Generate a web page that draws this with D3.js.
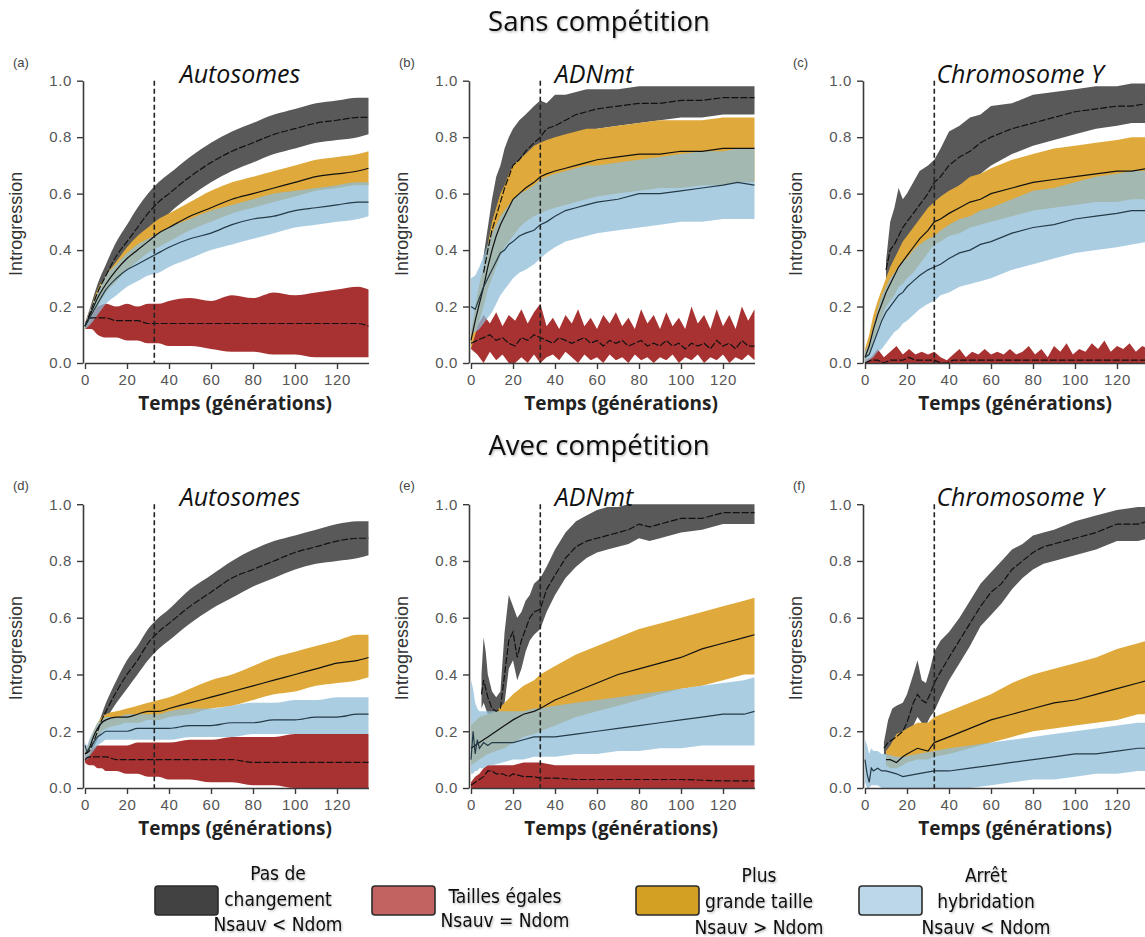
<!DOCTYPE html>
<html>
<head>
<meta charset="utf-8">
<script src="https://cdn.jsdelivr.net/npm/d3@7"></script>
<style>
  body { margin: 0; background: #fff; }
  svg { display: block; }
</style>
</head>
<body>
<svg id="fig" width="1145" height="937"></svg>
<script>
// ---------- Texts ----------
const rowTitles = ["Sans compétition", "Avec compétition"];
const panelLetters = ["(a)", "(b)", "(c)", "(d)", "(e)", "(f)"];
const markerNames = ["Autosomes", "ADNmt", "Chromosome Y"];
const xTitle = "Temps (générations)";
const yTitle = "Introgression";
const xTicks = [0, 20, 40, 60, 80, 100, 120];
const yTicks = [0, 0.2, 0.4, 0.6, 0.8, 1.0];
const timeMax = 135;
const changeGeneration = 33; // dashed vertical marker

const legendLabels = [
  ["Pas de", "changement", "Nsauv < Ndom"],
  ["Tailles égales", "Nsauv = Ndom"],
  ["Plus", "grande taille", "Nsauv > Ndom"],
  ["Arrêt", "hybridation", "Nsauv < Ndom"]
];

// ---------- Series: rows of [generation, lower, mean, upper] ----------
// (a) Autosomes, sans compétition
const a_gris = [[0,.12,.13,.14],[3,.17,.19,.21],[6,.22,.25,.28],[10,.27,.31,.35],[15,.32,.38,.43],[20,.37,.43,.49],[25,.41,.48,.55],[30,.46,.53,.60],[35,.49,.57,.64],[40,.53,.60,.67],[50,.59,.66,.73],[60,.64,.71,.78],[70,.68,.75,.82],[80,.71,.78,.85],[90,.74,.81,.88],[100,.76,.83,.90],[110,.78,.85,.92],[120,.79,.86,.93],[130,.80,.87,.94],[135,.81,.87,.94]];
const a_rouge = [[0,.12,.13,.14],[3,.12,.16,.19],[6,.10,.16,.20],[10,.09,.16,.21],[15,.09,.15,.20],[20,.08,.15,.21],[25,.08,.15,.20],[30,.07,.14,.21],[35,.07,.14,.21],[40,.06,.14,.22],[50,.06,.14,.23],[60,.05,.14,.22],[70,.04,.14,.24],[80,.04,.14,.23],[90,.03,.14,.25],[100,.03,.14,.24],[110,.02,.14,.25],[120,.02,.14,.26],[130,.02,.14,.27],[135,.02,.13,.26]];
const a_or = [[0,.12,.13,.14],[3,.16,.18,.20],[6,.20,.23,.26],[10,.25,.28,.31],[15,.29,.33,.36],[20,.33,.37,.41],[25,.36,.40,.45],[30,.39,.43,.48],[35,.41,.46,.51],[40,.43,.48,.53],[50,.47,.52,.57],[60,.50,.55,.61],[70,.53,.58,.64],[80,.55,.60,.66],[90,.57,.62,.68],[100,.59,.64,.70],[110,.61,.66,.72],[120,.62,.67,.73],[130,.63,.68,.74],[135,.63,.69,.75]];
const a_bleu = [[0,.12,.13,.14],[3,.14,.17,.20],[6,.17,.21,.25],[10,.21,.26,.31],[15,.24,.30,.35],[20,.27,.33,.39],[25,.29,.35,.42],[30,.31,.37,.44],[35,.32,.39,.46],[40,.34,.41,.48],[50,.37,.44,.51],[60,.40,.46,.54],[70,.42,.49,.56],[80,.44,.51,.58],[90,.46,.52,.60],[100,.48,.54,.61],[110,.49,.55,.62],[120,.50,.56,.63],[130,.51,.57,.64],[135,.52,.57,.64]];

// (b) ADNmt, sans compétition
const b_gris = [[6,.28,.32,.38],[8,.33,.40,.48],[10,.40,.47,.58],[12,.44,.52,.66],[14,.47,.57,.70],[16,.52,.62,.76],[18,.56,.66,.80],[20,.58,.70,.83],[23,.61,.72,.86],[26,.64,.75,.88],[30,.67,.78,.91],[33,.69,.80,.93],[36,.71,.83,.92],[40,.76,.84,.95],[45,.79,.86,.95],[50,.80,.88,.96],[55,.82,.89,.97],[60,.83,.90,.97],[70,.84,.91,.97],[80,.85,.92,.98],[90,.86,.92,.98],[100,.87,.93,.98],[110,.87,.93,.98],[120,.88,.94,.98],[127,.88,.94,.98],[135,.88,.94,.98]];
const b_rouge = [[0,.05,.07,.09],[3,.03,.08,.13],[6,.00,.09,.17],[9,.04,.10,.14],[12,.01,.08,.18],[15,.03,.09,.13],[18,.00,.07,.17],[21,.00,.06,.15],[24,.02,.09,.19],[27,.00,.08,.14],[30,.03,.10,.18],[33,.00,.09,.21],[36,.02,.08,.13],[39,.03,.07,.16],[42,.01,.09,.12],[45,.04,.08,.17],[48,.02,.07,.14],[51,.00,.08,.19],[54,.03,.09,.13],[57,.01,.07,.16],[60,.02,.08,.12],[63,.00,.06,.17],[66,.03,.08,.14],[69,.01,.07,.18],[72,.02,.08,.13],[75,.00,.06,.16],[78,.03,.07,.12],[81,.01,.08,.19],[84,.02,.06,.14],[87,.00,.07,.17],[90,.02,.06,.12],[93,.01,.08,.18],[96,.03,.06,.13],[99,.00,.07,.16],[102,.02,.05,.12],[105,.01,.07,.20],[108,.03,.06,.14],[111,.00,.07,.17],[114,.02,.05,.12],[117,.01,.08,.19],[120,.03,.06,.13],[123,.00,.07,.17],[126,.02,.05,.12],[129,.01,.08,.20],[132,.03,.06,.15],[135,.01,.06,.19]];
const b_or = [[0,.05,.08,.11],[2,.10,.15,.20],[4,.15,.21,.28],[6,.20,.27,.34],[8,.26,.34,.42],[10,.30,.40,.50],[12,.34,.45,.55],[14,.38,.49,.60],[16,.41,.52,.63],[18,.43,.55,.67],[20,.45,.58,.70],[23,.48,.60,.72],[26,.50,.62,.74],[30,.52,.64,.77],[33,.53,.66,.78],[36,.54,.67,.79],[40,.55,.68,.80],[45,.56,.69,.81],[50,.57,.70,.82],[55,.58,.71,.83],[60,.59,.72,.83],[70,.60,.73,.84],[80,.61,.74,.85],[90,.62,.74,.86],[100,.62,.75,.86],[110,.63,.75,.86],[120,.63,.76,.87],[127,.64,.76,.87],[135,.64,.76,.87]];
const b_bleu = [[0,.10,.20,.30],[2,.11,.19,.31],[4,.12,.23,.34],[6,.14,.27,.38],[8,.16,.30,.42],[10,.18,.33,.46],[12,.21,.36,.49],[14,.24,.39,.52],[16,.26,.40,.54],[18,.28,.42,.56],[20,.30,.43,.58],[23,.32,.45,.60],[26,.33,.46,.61],[30,.35,.47,.63],[33,.37,.49,.65],[36,.39,.50,.66],[40,.41,.52,.67],[45,.43,.54,.68],[50,.44,.55,.69],[55,.45,.56,.70],[60,.46,.57,.70],[70,.47,.58,.71],[80,.48,.60,.72],[90,.49,.60,.73],[100,.50,.61,.74],[110,.50,.62,.75],[120,.51,.63,.75],[127,.51,.64,.76],[135,.51,.63,.76]];

// (c) Chromosome Y, sans compétition
const c_gris = [[10,.28,.33,.36],[12,.32,.40,.50],[14,.34,.42,.55],[16,.36,.45,.62],[18,.40,.48,.58],[20,.42,.50,.60],[23,.45,.53,.64],[26,.47,.56,.68],[30,.50,.60,.70],[33,.55,.64,.72],[36,.57,.66,.76],[40,.60,.70,.82],[45,.63,.73,.84],[50,.65,.75,.87],[55,.67,.78,.88],[60,.70,.80,.91],[70,.74,.83,.92],[80,.77,.85,.95],[90,.79,.87,.96],[100,.81,.89,.97],[110,.83,.90,.98],[120,.84,.91,.98],[127,.85,.91,.99],[135,.85,.92,.99]];
const c_rouge = [[0,0,0,.01],[3,0,.01,.02],[6,0,.01,.05],[9,0,0,.02],[12,0,.01,.04],[15,0,.01,.06],[18,0,.01,.03],[21,0,.02,.05],[24,0,.01,.03],[27,0,.01,.04],[30,0,.01,.03],[33,0,.01,.04],[36,0,0,.02],[39,0,0,.01],[42,0,.01,.03],[45,0,.01,.05],[48,0,.01,.02],[51,0,.01,.04],[54,0,.01,.03],[57,0,.01,.05],[60,0,.01,.03],[63,0,.01,.04],[66,0,.01,.03],[69,0,.01,.05],[72,0,.01,.03],[75,0,.01,.04],[78,0,.01,.06],[81,0,.01,.03],[84,0,.01,.05],[87,0,.01,.02],[90,0,.01,.06],[93,0,.01,.04],[96,0,.01,.07],[99,0,.01,.03],[102,0,.01,.05],[105,0,.01,.04],[108,0,.01,.07],[111,0,.01,.05],[114,0,.01,.08],[117,0,.01,.04],[120,0,.01,.06],[123,0,.01,.05],[126,0,.01,.07],[129,0,.01,.04],[132,0,.01,.06],[135,0,.01,.05]];
const c_or = [[0,0,.02,.05],[2,.03,.06,.10],[4,.08,.12,.17],[6,.12,.17,.22],[8,.16,.21,.26],[10,.20,.25,.30],[12,.22,.28,.34],[14,.24,.31,.37],[16,.27,.34,.40],[18,.28,.36,.43],[20,.30,.38,.45],[23,.32,.41,.48],[26,.35,.44,.51],[30,.39,.47,.55],[33,.42,.50,.57],[36,.43,.51,.59],[40,.45,.53,.61],[45,.46,.55,.63],[50,.48,.57,.66],[55,.49,.58,.67],[60,.50,.60,.69],[70,.52,.62,.72],[80,.54,.64,.74],[90,.55,.65,.76],[100,.56,.66,.77],[110,.57,.67,.78],[120,.57,.68,.79],[127,.58,.68,.80],[135,.58,.69,.80]];
const c_bleu = [[0,0,.02,.04],[2,.01,.03,.07],[4,.02,.07,.13],[6,.04,.11,.19],[8,.05,.15,.24],[10,.07,.18,.27],[12,.09,.20,.30],[14,.11,.22,.32],[16,.12,.24,.34],[18,.14,.25,.36],[20,.15,.27,.37],[23,.17,.29,.40],[26,.19,.31,.42],[30,.21,.33,.44],[33,.22,.34,.45],[36,.24,.35,.47],[40,.25,.37,.49],[45,.27,.39,.51],[50,.28,.40,.52],[55,.29,.42,.54],[60,.30,.43,.55],[70,.33,.46,.58],[80,.35,.48,.61],[90,.37,.49,.62],[100,.39,.51,.64],[110,.40,.52,.66],[120,.41,.53,.67],[127,.42,.54,.68],[135,.43,.54,.68]];

// (d) Autosomes, avec compétition
const d_gris = [[0,.11,.12,.13],[2,.12,.13,.15],[4,.14,.16,.18],[6,.17,.20,.22],[8,.21,.24,.26],[10,.24,.27,.30],[15,.30,.34,.38],[20,.35,.40,.45],[25,.40,.45,.50],[30,.45,.51,.56],[35,.49,.55,.60],[40,.52,.58,.63],[50,.58,.64,.70],[60,.63,.69,.75],[70,.67,.74,.80],[80,.71,.77,.84],[90,.74,.80,.87],[100,.77,.83,.89],[110,.79,.85,.91],[120,.80,.87,.93],[130,.81,.88,.94],[135,.82,.88,.94]];
const d_rouge = [[0,.09,.10,.11],[2,.08,.11,.13],[4,.08,.11,.14],[6,.07,.11,.15],[8,.07,.11,.15],[10,.06,.11,.15],[15,.06,.10,.15],[20,.05,.10,.15],[25,.05,.10,.16],[30,.04,.10,.16],[35,.04,.10,.16],[40,.03,.10,.16],[50,.03,.10,.17],[60,.02,.10,.17],[70,.02,.10,.18],[80,.01,.09,.18],[90,.01,.09,.18],[100,0,.09,.19],[110,0,.09,.19],[120,0,.09,.19],[130,0,.09,.19],[135,0,.09,.19]];
const d_or = [[0,.11,.12,.13],[2,.12,.14,.16],[4,.15,.18,.20],[6,.18,.21,.23],[8,.20,.23,.25],[10,.21,.24,.26],[15,.22,.25,.27],[20,.23,.25,.28],[25,.23,.26,.29],[30,.24,.27,.30],[35,.24,.27,.31],[40,.25,.28,.32],[50,.26,.30,.35],[60,.28,.32,.38],[70,.29,.34,.40],[80,.31,.36,.43],[90,.33,.38,.46],[100,.34,.40,.48],[110,.36,.42,.50],[120,.37,.44,.52],[130,.38,.45,.54],[135,.39,.46,.54]];
const d_bleu = [[0,.10,.15,.16],[1,.10,.13,.15],[2,.11,.14,.17],[4,.13,.16,.20],[6,.15,.18,.23],[8,.16,.19,.24],[10,.17,.20,.25],[15,.17,.20,.25],[20,.17,.20,.26],[25,.17,.21,.26],[30,.17,.21,.26],[35,.17,.21,.26],[40,.17,.21,.27],[50,.18,.22,.28],[60,.18,.22,.28],[70,.18,.23,.29],[80,.19,.23,.30],[90,.19,.24,.30],[100,.19,.24,.31],[110,.19,.25,.31],[120,.19,.25,.32],[130,.19,.26,.32],[135,.19,.26,.32]];

// (e) ADNmt, avec compétition
const e_gris = [[5,.28,.33,.40],[6,.30,.38,.53],[7,.28,.35,.48],[8,.26,.32,.40],[10,.25,.28,.34],[12,.24,.27,.32],[14,.25,.28,.34],[16,.30,.40,.55],[18,.42,.52,.68],[20,.45,.55,.64],[22,.38,.46,.60],[24,.42,.52,.62],[26,.48,.56,.66],[28,.52,.60,.68],[30,.54,.62,.72],[33,.56,.63,.74],[36,.62,.70,.78],[40,.68,.75,.84],[45,.74,.81,.90],[50,.78,.85,.94],[55,.81,.87,.96],[60,.83,.88,.98],[65,.84,.89,.99],[70,.85,.90,.99],[75,.86,.91,1],[80,.88,.93,1],[85,.87,.92,1],[90,.88,.93,1],[100,.90,.95,1],[110,.91,.95,1],[120,.93,.97,1],[127,.93,.97,1],[135,.93,.97,1]];
const e_rouge = [[0,0,.01,.02],[2,0,.02,.04],[4,0,.03,.05],[6,0,.04,.07],[8,0,.06,.08],[10,0,.06,.08],[12,0,.05,.08],[15,0,.05,.08],[18,0,.04,.08],[20,0,.05,.08],[25,0,.04,.09],[30,0,.04,.09],[33,0,.035,.09],[40,0,.035,.08],[50,0,.03,.08],[60,0,.03,.08],[80,0,.03,.08],[100,0,.03,.08],[120,0,.025,.08],[135,0,.025,.08]];
const e_or = [[0,.08,.14,.22],[4,.10,.16,.25],[8,.12,.18,.26],[12,.13,.20,.27],[16,.14,.22,.30],[20,.16,.24,.33],[25,.18,.26,.36],[30,.19,.27,.38],[33,.20,.28,.40],[40,.22,.31,.43],[50,.25,.34,.47],[60,.27,.37,.50],[70,.29,.40,.53],[80,.31,.42,.56],[90,.33,.44,.58],[100,.35,.46,.60],[110,.36,.49,.62],[120,.38,.51,.64],[130,.40,.53,.66],[135,.40,.54,.67]];
const e_bleu = [[0,.05,.10,.38],[1,.05,.20,.35],[2,.06,.12,.30],[3,.06,.17,.28],[4,.07,.14,.27],[6,.07,.16,.27],[8,.08,.15,.27],[10,.08,.16,.27],[15,.09,.16,.27],[20,.10,.16,.27],[25,.10,.17,.27],[30,.11,.18,.28],[33,.11,.18,.28],[40,.11,.18,.29],[50,.12,.19,.30],[60,.12,.20,.31],[70,.13,.21,.32],[80,.13,.22,.33],[90,.14,.23,.34],[100,.14,.24,.35],[110,.15,.25,.36],[120,.15,.26,.37],[130,.15,.26,.38],[135,.15,.27,.39]];

// (f) Chromosome Y, avec compétition
const f_gris = [[9,.12,.14,.16],[11,.11,.16,.24],[13,.12,.17,.28],[15,.13,.18,.29],[18,.14,.20,.30],[20,.15,.23,.33],[23,.22,.30,.40],[25,.25,.33,.45],[27,.23,.31,.38],[29,.22,.30,.37],[31,.25,.33,.42],[33,.27,.37,.48],[36,.32,.41,.52],[40,.38,.46,.55],[45,.44,.52,.60],[50,.50,.58,.66],[55,.57,.64,.72],[60,.61,.69,.76],[65,.65,.72,.80],[70,.70,.77,.84],[75,.74,.80,.86],[80,.77,.83,.89],[85,.79,.85,.90],[90,.80,.86,.91],[100,.82,.88,.94],[110,.84,.90,.96],[120,.87,.93,.98],[130,.87,.93,.99],[135,.88,.94,.99]];
const f_or = [[10,.08,.10,.13],[12,.07,.10,.15],[15,.07,.09,.19],[18,.08,.11,.20],[20,.09,.12,.21],[25,.10,.14,.23],[30,.10,.13,.23],[33,.11,.16,.25],[40,.12,.18,.27],[50,.14,.21,.30],[60,.16,.24,.33],[70,.18,.26,.37],[80,.20,.28,.40],[90,.21,.30,.42],[100,.22,.31,.44],[110,.23,.33,.46],[120,.24,.35,.49],[130,.26,.37,.51],[135,.26,.38,.52]];
const f_bleu = [[0,.02,.10,.17],[1,0,.05,.15],[2,0,.02,.12],[3,.01,.07,.14],[4,.01,.06,.13],[6,.01,.07,.13],[8,0,.06,.12],[10,0,.06,.12],[15,0,.05,.11],[18,0,.04,.11],[25,0,.05,.12],[33,0,.06,.13],[40,0,.06,.14],[50,0,.07,.15],[60,.01,.08,.16],[70,.02,.09,.17],[80,.03,.10,.18],[90,.03,.11,.19],[100,.04,.12,.20],[110,.05,.12,.21],[120,.05,.13,.22],[130,.06,.14,.23],[135,.06,.14,.23]];

// ---------- Styles ----------
const scenarioStyle = {
  gris:  { fill: "#595959", opacity: 1,    line: "#111", dash: "7,2" },
  rouge: { fill: "#a83232", opacity: 1,    line: "#111", dash: "7,2" },
  or:    { fill: "#dfaa3b", opacity: 1,    line: "#111", dash: null },
  bleu:  { fill: "#8fbcd8", opacity: 0.75, line: "#233a47", dash: null }
};
const legendFills = ["#424242", "#c26362", "#d4a023", "#bcd7e8"];

const panels = [
  { letter: panelLetters[0], marker: markerNames[0], row: 0, x0: 85,  smooth: true,  s: { gris: a_gris, rouge: a_rouge, or: a_or, bleu: a_bleu } },
  { letter: panelLetters[1], marker: markerNames[1], row: 0, x0: 471, smooth: false, s: { gris: b_gris, rouge: b_rouge, or: b_or, bleu: b_bleu } },
  { letter: panelLetters[2], marker: markerNames[2], row: 0, x0: 865, smooth: false, s: { gris: c_gris, rouge: c_rouge, or: c_or, bleu: c_bleu } },
  { letter: panelLetters[3], marker: markerNames[0], row: 1, x0: 85,  smooth: true,  s: { gris: d_gris, rouge: d_rouge, or: d_or, bleu: d_bleu } },
  { letter: panelLetters[4], marker: markerNames[1], row: 1, x0: 471, smooth: false, s: { gris: e_gris, rouge: e_rouge, or: e_or, bleu: e_bleu } },
  { letter: panelLetters[5], marker: markerNames[2], row: 1, x0: 865, smooth: false, s: { gris: f_gris, or: f_or, bleu: f_bleu } }
];
const rowY = [{ top: 80.7, bottom: 363 }, { top: 504.2, bottom: 788 }];
const pxPerGen = 2.1;

const svg = d3.select("#fig");
const defs = svg.append("defs");
const shadow = defs.append("filter").attr("id", "softShadow")
  .attr("x", "-10%").attr("y", "-20%").attr("width", "130%").attr("height", "160%");
shadow.append("feDropShadow").attr("dx", 1).attr("dy", 1.2)
  .attr("stdDeviation", 0.9).attr("flood-color", "#000").attr("flood-opacity", 0.3);

const sansFont = "'Liberation Sans', Arial, sans-serif";
const titleFont = "'Open Sans', 'Noto Sans', sans-serif";

// Row titles
rowTitles.forEach((t, i) => {
  svg.append("text")
    .attr("x", 599).attr("y", i === 0 ? 31 : 455)
    .attr("text-anchor", "middle")
    .attr("font-family", titleFont).attr("font-size", 27.5)
    .attr("fill", "#111").attr("filter", "url(#softShadow)")
    .text(t);
});

panels.forEach(p => {
  const rows = rowY[p.row];
  const x = d3.scaleLinear().domain([0, timeMax]).range([p.x0, p.x0 + timeMax * pxPerGen]);
  const y = d3.scaleLinear().domain([0, 1]).range([rows.bottom, rows.top]);
  const g = svg.append("g");
  const curve = p.smooth ? d3.curveMonotoneX : d3.curveLinear;

  const area = d3.area().x(d => x(d[0])).y0(d => y(d[1])).y1(d => y(d[3])).curve(curve);
  const line = d3.line().x(d => x(d[0])).y(d => y(d[2])).curve(curve);

  // Bands: gris, rouge, or, then translucent bleu on top
  ["gris", "rouge", "or", "bleu"].forEach(k => {
    if (!p.s[k]) return;
    g.append("path").datum(p.s[k])
      .attr("d", area)
      .attr("fill", scenarioStyle[k].fill)
      .attr("fill-opacity", scenarioStyle[k].opacity);
  });
  // Mean lines
  ["gris", "rouge", "or", "bleu"].forEach(k => {
    if (!p.s[k]) return;
    g.append("path").datum(p.s[k])
      .attr("d", line)
      .attr("fill", "none")
      .attr("stroke", scenarioStyle[k].line)
      .attr("stroke-width", 1.2)
      .attr("stroke-dasharray", scenarioStyle[k].dash);
  });

  // Dashed vertical marker
  g.append("line")
    .attr("x1", x(changeGeneration)).attr("x2", x(changeGeneration))
    .attr("y1", y(1)).attr("y2", y(0))
    .attr("stroke", "#222").attr("stroke-width", 1.6)
    .attr("stroke-dasharray", "5,3");

  // Axes
  const yAxis = d3.axisLeft(y).tickValues(yTicks).tickFormat(d3.format(".1f"))
    .tickSize(6).tickSizeOuter(0).tickPadding(5);
  const xAxis = d3.axisBottom(x).tickValues(xTicks).tickFormat(d3.format("d"))
    .tickSize(6).tickSizeOuter(0).tickPadding(5);

  const ya = g.append("g").attr("transform", `translate(${p.x0 - 2},0)`).call(yAxis);
  const xa = g.append("g").attr("transform", `translate(0,${rows.bottom})`).call(xAxis);
  [ya, xa].forEach(a => {
    a.select(".domain").attr("stroke", "#3a3a3a").attr("stroke-width", 1.6);
    a.selectAll(".tick line").attr("stroke", "#3a3a3a").attr("stroke-width", 1.4);
    a.selectAll(".tick text").attr("fill", "#555").attr("font-size", 15)
      .attr("letter-spacing", 0.6).attr("font-family", sansFont);
  });

  // Panel letter
  g.append("text")
    .attr("x", p.x0 - 72).attr("y", rows.top - 14)
    .attr("font-family", sansFont).attr("font-size", 13)
    .attr("fill", "#444").text(p.letter);

  // Marker name (italic)
  const markerCenter = { "Autosomes": 240, "ADNmt": 594, "Chromosome Y": 1020 }[p.marker];
  g.append("text")
    .attr("x", markerCenter).attr("y", rows.top + 2)
    .attr("text-anchor", "middle")
    .attr("font-family", titleFont).attr("font-style", "italic").attr("font-size", 25)
    .attr("fill", "#111").text(p.marker);

  // Y title
  g.append("text")
    .attr("transform", `translate(${p.x0 - 63},${(rows.top + rows.bottom) / 2 + 2}) rotate(-90)`)
    .attr("text-anchor", "middle")
    .attr("font-family", sansFont).attr("font-size", 18)
    .attr("fill", "#333").text(yTitle);

  // X title
  g.append("text")
    .attr("x", p.x0 + 150).attr("y", rows.bottom + 47)
    .attr("text-anchor", "middle")
    .attr("font-family", titleFont).attr("font-weight", 700).attr("font-size", 19)
    .attr("fill", "#222").text(xTitle);
});

// ---------- Legend ----------
const legendItems = [
  { box: [155, 886], cx: 278, lines: [880, 906, 931] },
  { box: [372, 886], cx: 505, lines: [903, 927] },
  { box: [636, 886], cx: 759, lines: [882, 908, 934] },
  { box: [859, 886], cx: 986, lines: [882, 908, 934] }
];
const legendFont = "'Liberation Sans Narrow', 'DejaVu Sans Condensed', 'Open Sans', sans-serif";
legendItems.forEach((it, i) => {
  svg.append("rect")
    .attr("x", it.box[0]).attr("y", it.box[1])
    .attr("width", 63).attr("height", 29).attr("rx", 3)
    .attr("fill", legendFills[i]).attr("stroke", "#2b2b2b").attr("stroke-width", 1.6);
  legendLabels[i].forEach((t, j) => {
    svg.append("text")
      .attr("x", it.cx).attr("y", it.lines[j])
      .attr("text-anchor", "middle")
      .attr("font-family", legendFont).attr("font-size", 19)
      .attr("fill", "#111").attr("filter", "url(#softShadow)")
      .text(t);
  });
});
</script>
</body>
</html>
